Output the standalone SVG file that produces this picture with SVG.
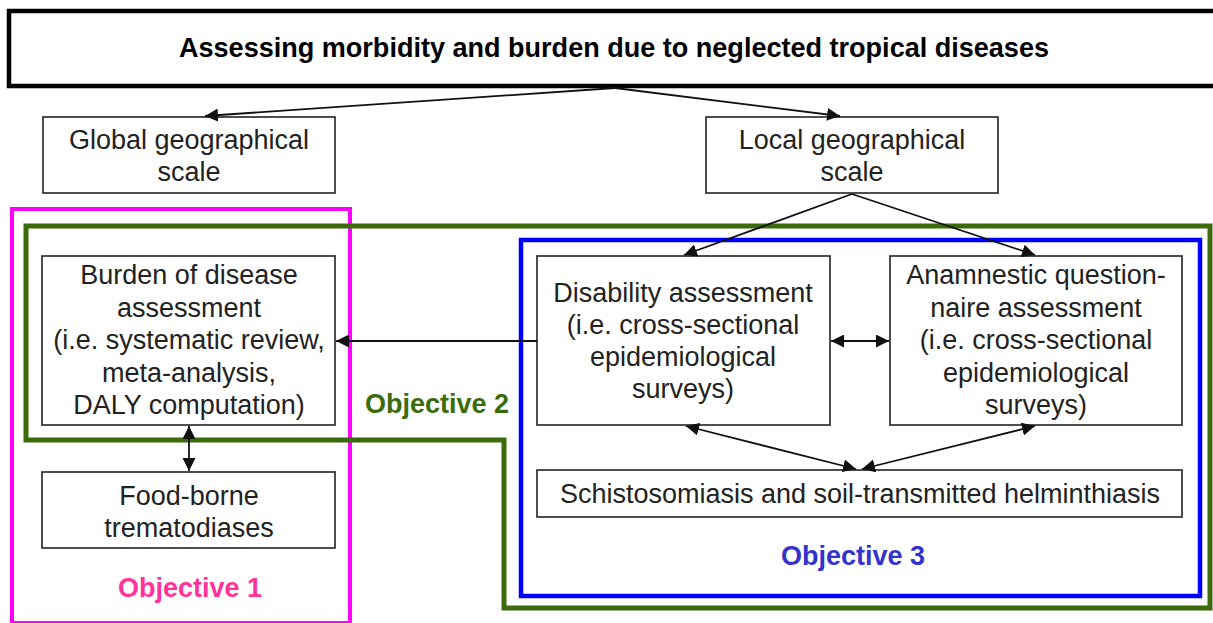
<svg xmlns="http://www.w3.org/2000/svg" width="1213" height="623" viewBox="0 0 1213 623">
<defs>
<style>
.box{fill:#fff;stroke:#222;stroke-width:1.6}
.t{font-family:"Liberation Sans",Arial,sans-serif;font-size:27px;fill:#222;text-anchor:middle}
.obj{font-family:"Liberation Sans",Arial,sans-serif;font-size:27px;font-weight:bold;text-anchor:middle}
.c{stroke:#111;stroke-width:1.8;fill:none}
</style>
<marker id="ah" viewBox="0 0 10 10" refX="10" refY="5" markerWidth="13" markerHeight="13" markerUnits="userSpaceOnUse" orient="auto-start-reverse">
<path d="M0,0 L10,5 L0,10 z" fill="#111"/>
</marker>
</defs>
<rect width="1213" height="623" fill="#fff"/>
<g id="groups">
<rect x="12" y="209" width="338" height="414" fill="none" stroke="#ff00ff" stroke-width="4"/>
<path d="M26,226 H1210 V608 H504 V440 H26 Z" fill="none" stroke="#3b6b0a" stroke-width="5" stroke-linejoin="miter"/>
<rect x="521" y="240" width="679" height="356" fill="none" stroke="#0000ff" stroke-width="4.5"/>
</g>
<g id="title">
<rect x="9" y="11" width="1212" height="75" fill="#fff" stroke="#000" stroke-width="4.5"/>
<text x="614" y="57" textLength="870" lengthAdjust="spacingAndGlyphs" style="font-family:'Liberation Sans',Arial,sans-serif;font-size:27px;font-weight:bold;text-anchor:middle" fill="#000">Assessing morbidity and burden due to neglected tropical diseases</text>
</g>
<g id="global">
<rect class="box" x="43" y="117" width="292" height="76"/>
<text class="t" x="189" y="149">Global geographical</text>
<text class="t" x="189" y="181">scale</text>
</g>
<g id="local">
<rect class="box" x="706" y="117" width="292" height="76"/>
<text class="t" x="852" y="149">Local geographical</text>
<text class="t" x="852" y="181">scale</text>
</g>
<g id="burden">
<rect class="box" x="42" y="256" width="293" height="169"/>
<text class="t" x="189" y="284">Burden of disease</text>
<text class="t" x="189" y="317">assessment</text>
<text class="t" x="189" y="349">(i.e. systematic review,</text>
<text class="t" x="189" y="382">meta-analysis,</text>
<text class="t" x="189" y="414">DALY computation)</text>
</g>
<g id="foodborne">
<rect class="box" x="42" y="472" width="293" height="76"/>
<text class="t" x="189" y="505">Food-borne</text>
<text class="t" x="189" y="537">trematodiases</text>
</g>
<g id="disability">
<rect class="box" x="537" y="256" width="293" height="169"/>
<text class="t" x="683" y="302">Disability assessment</text>
<text class="t" x="683" y="334">(i.e. cross-sectional</text>
<text class="t" x="683" y="366">epidemiological</text>
<text class="t" x="683" y="398">surveys)</text>
</g>
<g id="anamnestic">
<rect class="box" x="890" y="256" width="292" height="169"/>
<text class="t" x="1036" y="284">Anamnestic question-</text>
<text class="t" x="1036" y="317">naire assessment</text>
<text class="t" x="1036" y="349">(i.e. cross-sectional</text>
<text class="t" x="1036" y="382">epidemiological</text>
<text class="t" x="1036" y="414">surveys)</text>
</g>
<g id="schisto">
<rect class="box" x="537" y="470" width="645" height="47"/>
<text class="t" x="860" y="503">Schistosomiasis and soil-transmitted helminthiasis</text>
</g>
<g id="labels">
<text class="obj" x="190" y="597" fill="#ff3399">Objective 1</text>
<text class="obj" x="437" y="413" fill="#3b6b0a">Objective 2</text>
<text class="obj" x="853" y="565" fill="#3333cc">Objective 3</text>
</g>
<g id="connectors">
<line class="c" x1="615" y1="88" x2="205" y2="116" marker-end="url(#ah)"/>
<line class="c" x1="615" y1="88" x2="840" y2="116" marker-end="url(#ah)"/>
<line class="c" x1="852" y1="194" x2="684" y2="255" marker-end="url(#ah)"/>
<line class="c" x1="852" y1="194" x2="1035" y2="255" marker-end="url(#ah)"/>
<line class="c" x1="537" y1="341" x2="336" y2="341" marker-end="url(#ah)"/>
<line class="c" x1="831" y1="341" x2="889" y2="341" marker-start="url(#ah)" marker-end="url(#ah)"/>
<line class="c" x1="189" y1="426" x2="189" y2="471" marker-start="url(#ah)" marker-end="url(#ah)"/>
<line class="c" x1="686" y1="426" x2="856" y2="469" marker-start="url(#ah)" marker-end="url(#ah)"/>
<line class="c" x1="1035" y1="426" x2="862" y2="469" marker-start="url(#ah)" marker-end="url(#ah)"/>
</g>
</svg>
